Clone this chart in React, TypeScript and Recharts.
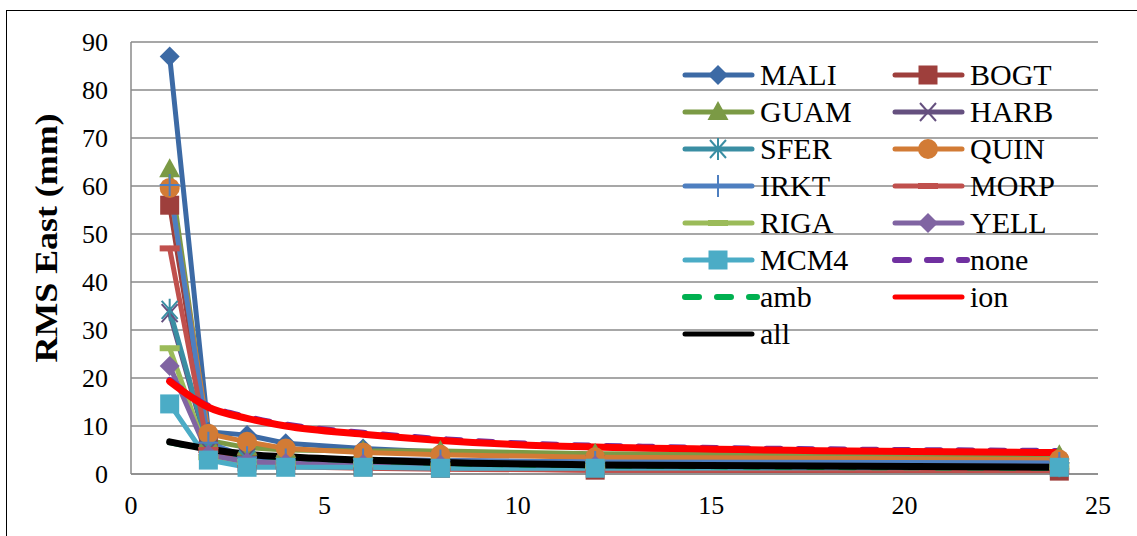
import React from 'react';
import { LineChart, Line, XAxis, YAxis, CartesianGrid, Legend } from 'recharts';

const hours = [1, 2, 3, 4, 6, 8, 12, 24];
const MALI = [87, 8.8, 8.1, 6.4, 5.3, 4.6, 3.8, 3.2];
const BOGT = [56, 6.0, 2.5, 2.0, 1.5, 1.2, 0.8, 0.6];
const GUAM = [63.5, 7.0, 5.5, 5.0, 4.8, 4.8, 4.2, 3.9];
const HARB = [33.5, 5.0, 3.5, 3.0, 3.0, 2.8, 2.5, 2.2];
const SFER = [34.2, 5.5, 3.0, 2.5, 2.2, 2.0, 1.8, 1.6];
const QUIN = [59.6, 8.4, 6.7, 5.3, 4.5, 4.0, 3.5, 3.0];
const IRKT = [60.2, 6.5, 3.5, 3.0, 3.0, 2.8, 2.5, 2.3];
const MORP = [47, 5.0, 2.0, 1.5, 1.2, 1.0, 0.8, 0.7];
const RIGA = [26.2, 3.5, 2.5, 2.2, 2.0, 1.8, 1.6, 1.5];
const YELL = [22.5, 4.0, 2.5, 2.3, 2.1, 2.0, 1.8, 1.6];
const MCM4 = [14.6, 2.9, 1.4, 1.4, 1.4, 1.2, 1.2, 1.4];
const none = [19.6, 14.2, 11.9, 10.3, 8.6, 7.3, 5.9, 4.8];
const amb = [6.6, 5.1, 4.0, 3.5, 2.8, 2.3, 1.8, 1.3];
const ion = [19.3, 13.9, 11.6, 10.0, 8.3, 7.0, 5.6, 4.5];
const all = [6.7, 5.2, 4.1, 3.6, 2.9, 2.4, 1.9, 1.4];

const xTicks = [0, 5, 10, 15, 20, 25];
const yTicks = [0, 10, 20, 30, 40, 50, 60, 70, 80, 90];

type Series = {
  key: string;
  values: number[];
  color: string;
  marker: string;
  dash?: boolean;
  width: number;
  smooth?: boolean;
};

const series: Series[] = [
  { key: 'MALI', values: MALI, color: '#3C6AA5', marker: 'diamond', width: 5 },
  { key: 'BOGT', values: BOGT, color: '#9E3F3C', marker: 'square', width: 5 },
  { key: 'GUAM', values: GUAM, color: '#7B9A45', marker: 'triangle', width: 5 },
  { key: 'HARB', values: HARB, color: '#65507F', marker: 'x', width: 5 },
  { key: 'SFER', values: SFER, color: '#3A8EA3', marker: 'star', width: 5 },
  { key: 'QUIN', values: QUIN, color: '#D27B35', marker: 'circle', width: 5 },
  { key: 'IRKT', values: IRKT, color: '#4E7FC0', marker: 'plus', width: 5 },
  { key: 'MORP', values: MORP, color: '#C0504D', marker: 'dash', width: 5 },
  { key: 'RIGA', values: RIGA, color: '#9BBB59', marker: 'dash', width: 5 },
  { key: 'YELL', values: YELL, color: '#8064A2', marker: 'diamond', width: 5 },
  { key: 'MCM4', values: MCM4, color: '#4BACC6', marker: 'square', width: 5 },
  { key: 'none', values: none, color: '#7030A0', marker: 'none', dash: true, width: 6, smooth: true },
  { key: 'amb', values: amb, color: '#00B050', marker: 'none', dash: true, width: 6, smooth: true },
  { key: 'ion', values: ion, color: '#FF0000', marker: 'none', width: 7, smooth: true },
  { key: 'all', values: all, color: '#000000', marker: 'none', width: 7, smooth: true },
];

const data = hours.map((h, i) => {
  const row: Record<string, number> = { h };
  series.forEach((s) => {
    row[s.key] = s.values[i];
  });
  return row;
});

const FONT = 'Liberation Serif';

function MarkerShape({ shape, color, cx, cy, legend }: { shape: string; color: string; cx: number; cy: number; legend?: boolean }) {
  switch (shape) {
    case 'diamond':
      return <polygon points={`${cx},${cy - 10} ${cx + 10},${cy} ${cx},${cy + 10} ${cx - 10},${cy}`} fill={color} />;
    case 'square':
      return <rect x={cx - 9.5} y={cy - 9.5} width={19} height={19} fill={color} />;
    case 'triangle':
      return <polygon points={`${cx},${cy - 11} ${cx + 10.5},${cy + 8} ${cx - 10.5},${cy + 8}`} fill={color} />;
    case 'circle':
      return <circle cx={cx} cy={cy} r={10} fill={color} />;
    case 'x':
      return (
        <path d={`M${cx - 8},${cy - 9} L${cx + 8},${cy + 9} M${cx + 8},${cy - 9} L${cx - 8},${cy + 9}`} stroke={color} strokeWidth={2} fill="none" />
      );
    case 'star':
      return (
        <path
          d={`M${cx - 8},${cy - 9} L${cx + 8},${cy + 9} M${cx + 8},${cy - 9} L${cx - 8},${cy + 9} M${cx},${cy - 11} L${cx},${cy + 11}`}
          stroke={color}
          strokeWidth={2}
          fill="none"
        />
      );
    case 'plus':
      return (
        <path
          d={legend ? `M${cx},${cy - 11} L${cx},${cy + 11}` : `M${cx - 10},${cy} L${cx + 10},${cy} M${cx},${cy - 11} L${cx},${cy + 11}`}
          stroke={color}
          strokeWidth={2}
          fill="none"
        />
      );
    case 'dash':
      return <rect x={cx - 10} y={cy - 3} width={20} height={6} fill={color} />;
    default:
      return <g />;
  }
}

function makeDot(s: Series) {
  return (p: any) => (
    <g key={`${s.key}-dot-${p.index}`}>
      {p.cx != null && p.cy != null ? <MarkerShape shape={s.marker} color={s.color} cx={p.cx} cy={p.cy} /> : null}
    </g>
  );
}

function LegendItem({ s }: { s: Series }) {
  return (
    <div style={{ display: 'flex', alignItems: 'center', height: 37.1, width: 210 }}>
      <svg width={78} height={30} style={{ display: 'block', flex: '0 0 auto' }}>
        <line
          x1={3}
          y1={15}
          x2={s.dash ? 75 : 70}
          y2={15}
          stroke={s.color}
          strokeWidth={s.dash ? 6 : 5}
          strokeLinecap="round"
          strokeDasharray={s.dash ? '14 18' : undefined}
        />
        <MarkerShape shape={s.marker} color={s.color} cx={36} cy={15} legend />
      </svg>
      <span style={{ fontFamily: FONT, fontSize: 30, lineHeight: '30px', color: '#000', whiteSpace: 'nowrap' }}>{s.key}</span>
    </div>
  );
}

function CustomLegend() {
  return (
    <div style={{ display: 'grid', gridTemplateColumns: '210px 210px', gridAutoRows: '37.1px', fontFamily: FONT }}>
      {series.map((s) => (
        <LegendItem key={s.key} s={s} />
      ))}
    </div>
  );
}

function YLabel() {
  return (
    <text
      x={57}
      y={238}
      transform="rotate(-90 57 238)"
      textAnchor="middle"
      fontFamily={FONT}
      fontWeight="bold"
      fontSize={31}
      fill="#000"
      textLength={249}
      lengthAdjust="spacingAndGlyphs"
    >
      RMS East (mm)
    </text>
  );
}

export default function App() {
  return (
    <div style={{ position: 'absolute', left: 0, top: 0, width: 1137, height: 536, background: '#fff', overflow: 'hidden', fontFamily: FONT }}>
      <div
        style={{
          position: 'absolute',
          left: 6,
          top: 10,
          width: 1131,
          height: 526,
          borderLeft: '1.5px solid #000',
          borderTop: '1.5px solid #000',
          boxSizing: 'border-box',
        }}
      />
      <div style={{ position: 'absolute', left: 0, top: 0 }}>
        <LineChart width={1137} height={536} data={data} margin={{ top: 42, right: 39, bottom: 0, left: 0 }} style={{ fontFamily: FONT }}>
          <CartesianGrid vertical={false} stroke="#8A8A8A" strokeWidth={1.5} />
          <XAxis
            dataKey="h"
            type="number"
            domain={[0, 25]}
            ticks={xTicks}
            height={62}
            tickSize={0}
            tickMargin={22}
            axisLine={{ stroke: '#8A8A8A', strokeWidth: 1.5 }}
            tickLine={false}
            tick={{ fontFamily: FONT, fontSize: 26, fill: '#000' }}
            interval={0}
          />
          <YAxis
            type="number"
            domain={[0, 90]}
            ticks={yTicks}
            width={131}
            tickSize={0}
            tickMargin={23}
            axisLine={{ stroke: '#8A8A8A', strokeWidth: 1.5 }}
            tickLine={false}
            tick={{ fontFamily: FONT, fontSize: 26, fill: '#000' }}
            interval={0}
            label={{ content: () => <YLabel /> }}
          />
          <Legend
            layout="horizontal"
            verticalAlign="middle"
            align="center"
            content={() => <CustomLegend />}
            wrapperStyle={{ position: 'absolute', left: 682, top: 56, width: 430, height: 300 }}
          />
          {series.map((s) => (
            <Line
              key={s.key}
              dataKey={s.key}
              name={s.key}
              type={s.smooth ? 'monotone' : 'linear'}
              stroke={s.color}
              strokeWidth={s.width}
              strokeDasharray={s.dash ? '14 18' : undefined}
              strokeLinecap="round"
              strokeLinejoin="round"
              dot={s.marker === 'none' ? false : makeDot(s)}
              activeDot={false}
              isAnimationActive={false}
            />
          ))}
        </LineChart>
      </div>
    </div>
  );
}
